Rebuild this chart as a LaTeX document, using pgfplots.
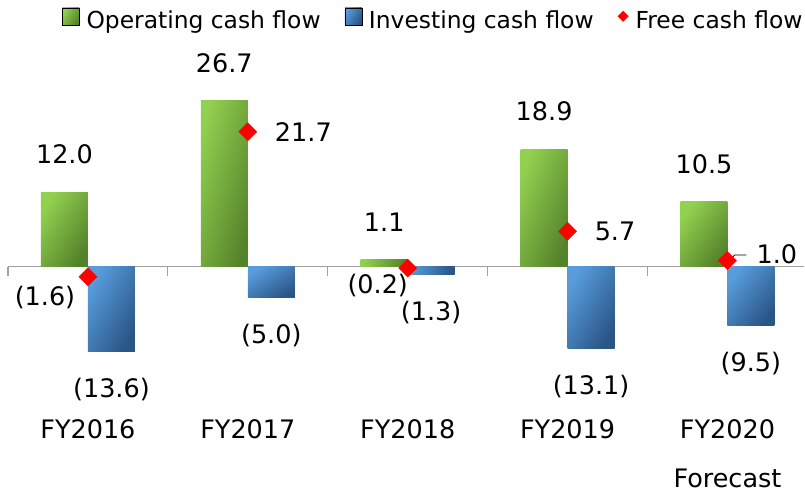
\documentclass[border=0pt]{standalone}
\usepackage{pgfplots}
\pgfplotsset{compat=1.18}
\usepackage{fontspec}
\setmainfont{DejaVu Sans}

\definecolor{gLight}{RGB}{146,208,80}
\definecolor{gDark}{RGB}{84,130,42}
\definecolor{bLight}{RGB}{88,156,220}
\definecolor{bDark}{RGB}{42,86,134}
\definecolor{axgray}{RGB}{160,160,160}

\tikzset{lab/.style={font=\fontsize{25.5}{30}\selectfont, inner sep=0pt, text=black}}
% shading angle per bar: light corner top-left, dark corner bottom-right
\pgfplotsset{
    opbar/.style={forget plot, ybar, bar width=47pt, bar shift=-23.5pt, draw=none,
        left color=gLight, right color=gDark, shading angle=#1},
    invbar/.style={forget plot, ybar, bar width=47pt, bar shift=23.5pt, draw=none,
        left color=bLight, right color=bDark, shading angle=#1},
}

\begin{document}
\begin{tikzpicture}
\begin{axis}[
    scale only axis, width=805pt, height=494pt,
    xmin=-0.55, xmax=4.48125, ymin=-36.44, ymax=42.86,
    axis lines=none, clip=false,
    legend columns=-1,
    legend style={draw=none, fill=none, inner sep=0pt,
        at={(axis description cs:0.077,0.985)}, anchor=north west,
        font=\fontsize{23.4}{27}\selectfont,
        /tikz/every odd column/.append style={column sep=5pt},
        /tikz/every even column/.append style={column sep=22pt}},
]
% bounding box
\path (rel axis cs:0,0) rectangle (rel axis cs:1,1);

% legend images
\addlegendimage{legend image code/.code={\path[left color=gLight, right color=gDark, shading angle=60] (0pt,-4pt) rectangle (17pt,13pt);}}
\addlegendentry{Operating cash flow}
\addlegendimage{legend image code/.code={\path[left color=bLight, right color=bDark, shading angle=60] (0pt,-4pt) rectangle (17pt,13pt);}}
\addlegendentry{Investing cash flow}
\addlegendimage{legend image code/.code={\path[fill=red, draw=none] (5.5pt,-1pt) -- (11pt,4.5pt) -- (5.5pt,10pt) -- (0pt,4.5pt) -- cycle;}}
\addlegendentry{Free cash flow}

% zero line with category ticks
\draw[axgray, line width=1.2pt] (axis cs:-0.5,0) -- (axis cs:4.48125,0);
\draw[axgray, line width=1.2pt] (axis cs:-0.5,0) -- ++(0pt,-9pt);
\draw[axgray, line width=1.2pt] (axis cs:0.5,0) -- ++(0pt,-9pt);
\draw[axgray, line width=1.2pt] (axis cs:1.5,0) -- ++(0pt,-9pt);
\draw[axgray, line width=1.2pt] (axis cs:2.5,0) -- ++(0pt,-9pt);
\draw[axgray, line width=1.2pt] (axis cs:3.5,0) -- ++(0pt,-9pt);

% operating cash flow (one plot per bar so each bar gets its own gradient)
\addplot[opbar=58] coordinates {(0,12.0)};
\addplot[opbar=74] coordinates {(1,26.7)};
\addplot[opbar=80] coordinates {(2,1.1)};
\addplot[opbar=68] coordinates {(3,18.9)};
\addplot[opbar=54] coordinates {(4,10.5)};
% investing cash flow
\addplot[invbar=61] coordinates {(0,-13.6)};
\addplot[invbar=33] coordinates {(1,-5.0)};
\addplot[invbar=80] coordinates {(2,-1.3)};
\addplot[invbar=60] coordinates {(3,-13.1)};
\addplot[invbar=52] coordinates {(4,-9.5)};
% free cash flow
\addplot[forget plot, only marks, color=red, mark=square*, mark size=6.4pt,
    mark options={rotate=45, fill=red, draw=none}]
    coordinates {(0,-1.6) (1,21.7) (2,-0.2) (3,5.7) (4,1.0)};

% labels: operating
\node[lab, xshift=-23.5pt, yshift=37.5pt] at (axis cs:0,12.0) {12.0};
\node[lab, xshift=-23.5pt, yshift=37.5pt] at (axis cs:1,26.7) {26.7};
\node[lab, xshift=-23.5pt, yshift=37.5pt] at (axis cs:2,1.1) {1.1};
\node[lab, xshift=-23.5pt, yshift=37.5pt] at (axis cs:3,18.9) {18.9};
\node[lab, xshift=-23.5pt, yshift=37.5pt] at (axis cs:4,10.5) {10.5};
% labels: investing
\node[lab, xshift=23.5pt, yshift=-38pt] at (axis cs:0,-13.6) {(13.6)};
\node[lab, xshift=23.5pt, yshift=-38pt] at (axis cs:1,-5.0) {(5.0)};
\node[lab, xshift=23.5pt, yshift=-38pt] at (axis cs:2,-1.3) {(1.3)};
\node[lab, xshift=23.5pt, yshift=-38pt] at (axis cs:3,-13.1) {(13.1)};
\node[lab, xshift=23.5pt, yshift=-38pt] at (axis cs:4,-9.5) {(9.5)};
% labels: free cash flow
\node[lab, xshift=-43pt, yshift=-21pt] at (axis cs:0,-1.6) {(1.6)};
\node[lab, anchor=west, xshift=27pt] at (axis cs:1,21.7) {21.7};
\node[lab, xshift=-30pt, yshift=-17pt] at (axis cs:2,-0.2) {(0.2)};
\node[lab, anchor=west, xshift=27pt] at (axis cs:3,5.7) {5.7};
\draw[black, line width=0.8pt] (axis cs:4,1.0) ++(3pt,1pt) -- ++(4pt,4.5pt) -- ++(12pt,0pt);
\node[lab, anchor=west, xshift=29pt, yshift=6pt] at (axis cs:4,1.0) {1.0};

% categories
\node[lab, yshift=-162.5pt] at (axis cs:0,0) {FY2016};
\node[lab, yshift=-162.5pt] at (axis cs:1,0) {FY2017};
\node[lab, yshift=-162.5pt] at (axis cs:2,0) {FY2018};
\node[lab, yshift=-162.5pt] at (axis cs:3,0) {FY2019};
\node[lab, yshift=-162.5pt] at (axis cs:4,0) {FY2020};
\node[lab, yshift=-211.5pt] at (axis cs:4,0) {Forecast};
\end{axis}
\end{tikzpicture}
\end{document}
